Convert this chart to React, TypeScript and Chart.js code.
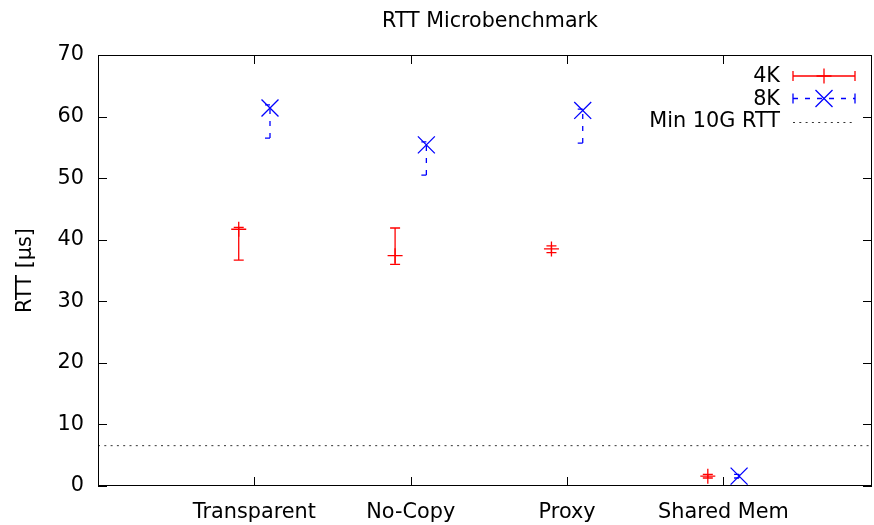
import React, { useEffect, useRef } from "react";
import { Chart, registerables } from "chart.js";

Chart.register(...registerables);

const categories = ["Transparent", "No-Copy", "Proxy", "Shared Mem"];
const rtt4k = [41.7, 37.4, 38.5, 1.6];
const rtt4kLow = [36.7, 36.0, 37.9, 1.3];
const rtt4kHigh = [42.0, 41.9, 39.0, 1.9];
const rtt8k = [61.4, 55.4, 61.0, 1.6];
const rtt8kLow = [56.5, 50.5, 55.7, 1.3];
const rtt8kHigh = [61.9, 55.9, 61.2, 1.9];
const min10GRtt = 6.55;
const yTicks = [0, 10, 20, 30, 40, 50, 60, 70];
const seriesOffset = 0.1;

const FONT = '"DejaVu Sans", sans-serif';
const FS = 20.8;
const RED = "#ff0000";
const BLUE = "#0000ff";
const DASH8K = [5, 7];
const DOT = [2, 4.3];
const LW = 1.3;

function drawCross(ctx: CanvasRenderingContext2D, x: number, y: number, r: number) {
  ctx.beginPath();
  ctx.moveTo(x - r, y);
  ctx.lineTo(x + r, y);
  ctx.moveTo(x, y - r);
  ctx.lineTo(x, y + r);
  ctx.stroke();
}
function drawX(ctx: CanvasRenderingContext2D, x: number, y: number, r: number) {
  ctx.beginPath();
  ctx.moveTo(x - r, y - r);
  ctx.lineTo(x + r, y + r);
  ctx.moveTo(x - r, y + r);
  ctx.lineTo(x + r, y - r);
  ctx.stroke();
}

const errorBarPlugin = {
  id: "errorBars",
  beforeDatasetsDraw(chart: any) {
    const { ctx, scales } = chart;
    const x = scales.x;
    const y = scales.y;
    const area = chart.chartArea;
    const yr = y.getPixelForValue(min10GRtt);
    ctx.save();
    ctx.strokeStyle = "rgba(0,0,0,0.8)";
    ctx.lineWidth = 1;
    ctx.setLineDash(DOT);
    ctx.beginPath();
    ctx.moveTo(area.left, yr);
    ctx.lineTo(area.right, yr);
    ctx.stroke();
    ctx.restore();

    chart.data.datasets.forEach((ds: any) => {
      if (!ds.errLow) return;
      ctx.save();
      ctx.strokeStyle = ds.borderColor;
      ctx.lineWidth = LW;
      ctx.setLineDash(ds.errDash || []);
      ds.data.forEach((pt: any, i: number) => {
        const px = x.getPixelForValue(pt.x);
        const yl = y.getPixelForValue(ds.errLow[i]);
        const yh = y.getPixelForValue(ds.errHigh[i]);
        ctx.beginPath();
        ctx.moveTo(px, yl);
        ctx.lineTo(px, yh);
        ctx.stroke();
        ctx.beginPath();
        ctx.moveTo(px - 5, yl);
        ctx.lineTo(px + 5, yl);
        ctx.moveTo(px - 5, yh);
        ctx.lineTo(px + 5, yh);
        ctx.stroke();
      });
      ctx.restore();
    });
  },
};

const framePlugin = {
  id: "frame",
  afterDraw(chart: any) {
    const { ctx, chartArea: a, scales } = chart;
    const x = scales.x;
    const y = scales.y;
    ctx.save();
    ctx.strokeStyle = "#000";
    ctx.lineWidth = 1;
    ctx.setLineDash([]);
    ctx.strokeRect(Math.round(a.left) + 0.5, Math.round(a.top) + 0.5, Math.round(a.right - a.left) - 1, Math.round(a.bottom - a.top) - 1);
    const T = 9;
    ctx.beginPath();
    yTicks.forEach((v) => {
      const py = Math.round(y.getPixelForValue(v)) + 0.5;
      ctx.moveTo(a.left, py);
      ctx.lineTo(a.left + T, py);
      ctx.moveTo(a.right, py);
      ctx.lineTo(a.right - T, py);
    });
    categories.forEach((_, i) => {
      const px = Math.round(x.getPixelForValue(i)) + 0.5;
      ctx.moveTo(px, a.bottom);
      ctx.lineTo(px, a.bottom - T);
      ctx.moveTo(px, a.top);
      ctx.lineTo(px, a.top + T);
    });
    ctx.stroke();

    // title
    ctx.fillStyle = "#000";
    ctx.font = `20.6px ${FONT}`;
    ctx.textAlign = "center";
    ctx.textBaseline = "alphabetic";
    ctx.fillText("RTT Microbenchmark", 490, 27);

    // legend
    ctx.font = `${FS}px ${FONT}`;
    const textX = 780;
    const x0 = 793;
    const x1 = 855;
    const xm = (x0 + x1) / 2;
    const rows = [76, 98.5, 121];
    ctx.textAlign = "right";
    ctx.textBaseline = "middle";
    const labels = chart.data.datasets.map((d: any) => d.label).concat(["Min 10G RTT"]);
    labels.forEach((lab: string, i: number) => {
      ctx.fillStyle = "#000";
      ctx.fillText(lab, textX, rows[i] + 1);
    });
    ctx.strokeStyle = RED;
    ctx.lineWidth = LW;
    ctx.beginPath();
    ctx.moveTo(x0, rows[0]);
    ctx.lineTo(x1, rows[0]);
    ctx.moveTo(x0, rows[0] - 5);
    ctx.lineTo(x0, rows[0] + 5);
    ctx.moveTo(x1, rows[0] - 5);
    ctx.lineTo(x1, rows[0] + 5);
    ctx.stroke();
    drawCross(ctx, xm, rows[0], 7.5);
    ctx.strokeStyle = BLUE;
    ctx.setLineDash(DASH8K);
    ctx.beginPath();
    ctx.moveTo(x0, rows[1]);
    ctx.lineTo(x1, rows[1]);
    ctx.stroke();
    ctx.setLineDash([]);
    ctx.beginPath();
    ctx.moveTo(x0, rows[1] - 5);
    ctx.lineTo(x0, rows[1] + 5);
    ctx.moveTo(x1, rows[1] - 5);
    ctx.lineTo(x1, rows[1] + 5);
    ctx.stroke();
    drawX(ctx, xm, rows[1], 8.5);
    ctx.strokeStyle = "rgba(0,0,0,0.8)";
    ctx.lineWidth = 1;
    ctx.setLineDash(DOT);
    ctx.beginPath();
    ctx.moveTo(x0, rows[2] + 1.5);
    ctx.lineTo(x1, rows[2] + 1.5);
    ctx.stroke();
    ctx.restore();
  },
};

export default function App() {
  const ref = useRef<HTMLCanvasElement | null>(null);
  useEffect(() => {
    document.body.style.margin = "0";
    const canvas = ref.current;
    if (!canvas) return;
    const chart = new Chart(canvas, {
      type: "scatter",
      data: {
        datasets: [
          {
            label: "4K",
            data: categories.map((_, i) => ({ x: i - seriesOffset, y: rtt4k[i] })),
            borderColor: RED,
            backgroundColor: RED,
            pointStyle: "cross",
            pointRadius: 7.5,
            pointHoverRadius: 7.5,
            pointBorderWidth: LW,
            showLine: false,
            errLow: rtt4kLow,
            errHigh: rtt4kHigh,
            errDash: [],
          } as any,
          {
            label: "8K",
            data: categories.map((_, i) => ({ x: i + seriesOffset, y: rtt8k[i] })),
            borderColor: BLUE,
            backgroundColor: BLUE,
            pointStyle: "crossRot",
            pointRadius: 12,
            pointHoverRadius: 12,
            pointBorderWidth: LW,
            showLine: false,
            errLow: rtt8kLow,
            errHigh: rtt8kHigh,
            errDash: DASH8K,
          } as any,
        ],
      },
      options: {
        animation: false,
        responsive: false,
        maintainAspectRatio: false,
        layout: { autoPadding: false, padding: { top: 55, right: 2, left: 0, bottom: 0 } },
        plugins: {
          legend: { display: false },
          title: { display: false },
          tooltip: { enabled: false },
        },
        scales: {
          x: {
            type: "linear",
            min: -1,
            max: 3.95,
            grid: { display: false, drawTicks: false },
            border: { display: false },
            afterBuildTicks: (s: any) => {
              s.ticks = categories.map((_, i) => ({ value: i }));
            },
            afterFit: (s: any) => {
              s.height = 39;
              s.paddingLeft = 0;
              s.paddingRight = 0;
            },
            ticks: {
              autoSkip: false,
              maxRotation: 0,
              padding: 14,
              color: "#000",
              font: { family: FONT, size: FS },
              callback: (v: any) => categories[v as number] ?? "",
            },
          },
          y: {
            type: "linear",
            min: 0,
            max: 70,
            grid: { display: false, drawTicks: false },
            border: { display: false },
            afterBuildTicks: (s: any) => {
              s.ticks = yTicks.map((v) => ({ value: v }));
            },
            afterFit: (s: any) => {
              s.width = 98;
            },
            ticks: {
              padding: 14,
              color: "#000",
              font: { family: FONT, size: FS },
            },
            title: {
              display: true,
              text: "RTT [µs]",
              color: "#000",
              font: { family: FONT, size: FS },
              padding: { top: 13, bottom: 0 },
            },
          },
        },
      },
      plugins: [errorBarPlugin, framePlugin],
    });
    return () => chart.destroy();
  }, []);
  return (
    <div style={{ width: 874, height: 525 }}>
      <canvas ref={ref} width={874} height={525} style={{ width: 874, height: 525, display: "block" }} />
    </div>
  );
}
